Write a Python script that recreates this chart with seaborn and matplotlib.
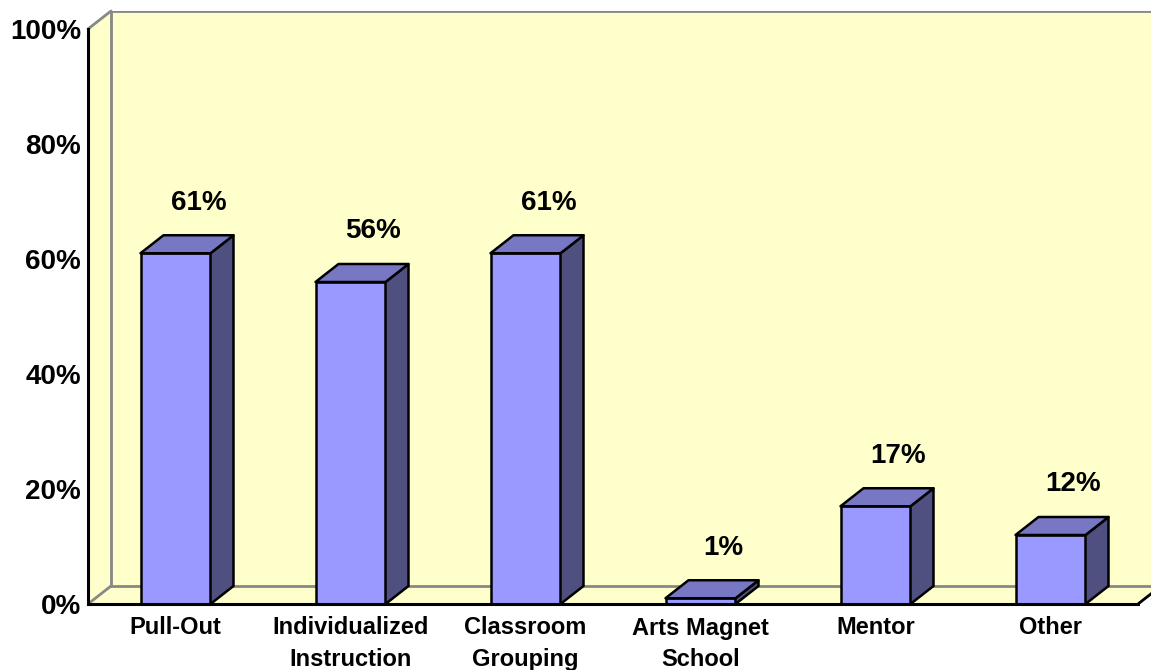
import matplotlib
matplotlib.use("Agg")
import matplotlib.pyplot as plt
from matplotlib.patches import Polygon
import seaborn as sns
import pandas as pd

categories = ["Pull-Out", "Individualized\nInstruction", "Classroom\nGrouping",
              "Arts Magnet\nSchool", "Mentor", "Other"]
values = [61, 56, 61, 1, 17, 12]
value_labels = ["61%", "56%", "61%", "1%", "17%", "12%"]
ytick_values = [0, 20, 40, 60, 80, 100]
ytick_labels = ["0%", "20%", "40%", "60%", "80%", "100%"]

sns.set_style("white")
plt.rcParams['font.family'] = ['Liberation Sans', 'DejaVu Sans']
plt.rcParams['text.color'] = 'black'
plt.rcParams['xtick.color'] = 'black'
plt.rcParams['ytick.color'] = 'black'

W, H = 1151, 670
fig = plt.figure(figsize=(W / 100, H / 100), dpi=100)
px_per_x = 175.0
px_per_pct = 5.75
left_px, bottom_px, top_px = 88, 604, 11
ax = fig.add_axes([left_px / W, (H - bottom_px) / H, (W - left_px) / W, (bottom_px - top_px) / H])
xmax = -0.5 + (W - left_px) / px_per_x
ymax = (bottom_px - top_px) / px_per_pct
ax.set_xlim(-0.5, xmax)
ax.set_ylim(0, ymax)

dx = 23 / px_per_x
dy = 18 / px_per_pct
wall = "#FFFFCC"
grey = "#888888"

ax.add_patch(Polygon([(-0.5 + dx, dy), (xmax + 1, dy), (xmax + 1, 100 + dy), (-0.5 + dx, 100 + dy)],
                     closed=True, facecolor=wall, edgecolor='none', zorder=0))
ax.add_patch(Polygon([(-0.5, 0), (-0.5, 100), (-0.5 + dx, 100 + dy), (-0.5 + dx, dy)],
                     closed=True, facecolor=wall, edgecolor='none', zorder=0))
ax.add_patch(Polygon([(-0.5, 0), (5.5, 0), (5.5 + dx, dy), (-0.5 + dx, dy)],
                     closed=True, facecolor=wall, edgecolor='none', zorder=0))
lw_grey = 2
ax.plot([-0.5 + dx, xmax + 1], [dy, dy], color=grey, lw=lw_grey, zorder=0.5)
ax.plot([-0.5 + dx, xmax + 1], [100 + dy, 100 + dy], color=grey, lw=lw_grey, zorder=0.5)
ax.plot([-0.5 + dx, -0.5 + dx], [dy, 100 + dy], color=grey, lw=lw_grey, zorder=0.5)
ax.plot([-0.5, -0.5 + dx], [100, 100 + dy], color=grey, lw=lw_grey, zorder=0.5, clip_on=False)
ax.plot([-0.5, -0.5 + dx], [0, dy], color=grey, lw=lw_grey, zorder=0.5)
ax.plot([5.5, 5.5 + dx], [0, dy], color='black', lw=2, zorder=0.6, clip_on=False)

df = pd.DataFrame({"cat": categories, "val": values})
sns.barplot(data=df, x="cat", y="val", color="#9999FF", saturation=1, width=0.4,
            edgecolor="black", linewidth=1.8, ax=ax, zorder=2)

bars = [p for p in ax.patches if hasattr(p, 'get_width') and abs(p.get_width() - 0.4) < 1e-6]
for bar, lab in zip(bars, value_labels):
    x0 = bar.get_x()
    x1 = x0 + bar.get_width()
    h = bar.get_height()
    top = Polygon([(x0, h), (x1, h), (x1 + dx, h + dy), (x0 + dx, h + dy)], closed=True,
                  facecolor="#7777C4", edgecolor="black", linewidth=1.8, zorder=3, joinstyle='round')
    side = Polygon([(x1, 0), (x1, h), (x1 + dx, h + dy), (x1 + dx, dy)], closed=True,
                   facecolor="#4F4F80", edgecolor="black", linewidth=1.8, zorder=3, joinstyle='round')
    ax.add_patch(side)
    ax.add_patch(top)
    ax.text((x0 + x1) / 2 + dx, h + dy + 3.4, lab, ha='center', va='bottom',
            fontsize=20, fontweight='bold', color='black', zorder=4)

ax.set_xlabel("")
ax.set_ylabel("")
ax.set_yticks(ytick_values)
ax.set_yticklabels(ytick_labels, fontsize=20, fontweight='bold', color='black')
ax.set_xticks(range(len(categories)))
ax.set_xticklabels(categories, fontsize=17, fontweight='bold', linespacing=1.45, color='black')
ax.tick_params(axis='y', length=0, pad=5)
ax.tick_params(axis='x', length=0, pad=9)
ax.set_xlim(-0.5, xmax)
ax.set_ylim(0, ymax)

for s in ['top', 'right']:
    ax.spines[s].set_visible(False)
ax.spines['left'].set_bounds(0, 100)
ax.spines['bottom'].set_bounds(-0.5, 5.5)
for s in ['left', 'bottom']:
    ax.spines[s].set_color('black')
    ax.spines[s].set_linewidth(2.2)
    ax.spines[s].set_zorder(5)

fig.savefig("out.png", dpi=100, facecolor='white')
